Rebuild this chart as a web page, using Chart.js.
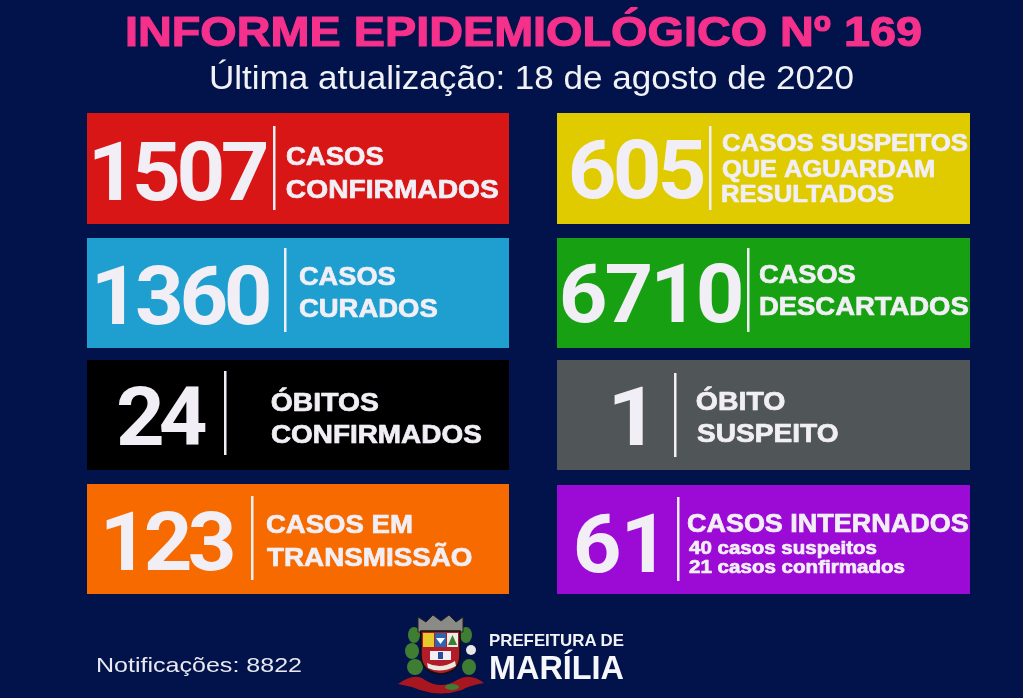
<!DOCTYPE html>
<html lang="pt-BR"><head><meta charset="utf-8">
<script src="https://cdn.jsdelivr.net/npm/chart.js@4"></script>
<style>
html,body{margin:0;padding:0;background:#02124a;width:1023px;height:698px;overflow:hidden}
canvas{position:absolute;display:block}
.t{position:absolute;white-space:nowrap;font-family:"Liberation Sans",Arial,sans-serif;line-height:1;transform-origin:0 0}
svg{position:absolute;left:0;top:0}
#page{position:absolute;left:0;top:0;width:1023px;height:698px;filter:blur(.4px)}
</style></head><body><div id="page">
<div class="t" data-x="125" data-w="797" style="top:10px;font-size:43px;font-weight:bold;color:#f5318c;-webkit-text-stroke:1.2px #f5318c">INFORME EPIDEMIOLÓGICO Nº 169</div>
<div class="t" data-x="209" data-w="645" style="top:60px;font-size:34px;color:#f1f2f6">Última atualização: 18 de agosto de 2020</div>
<div class="t" data-x="96" data-w="206" style="top:654px;font-size:21px;color:#e8e9f0">Notificações: 8822</div>
<div class="t" data-x="489" data-w="135" style="top:632px;font-size:16.500px;font-weight:bold;color:#f2f3f7">PREFEITURA DE</div>
<div class="t" data-x="489" data-w="135" style="top:651px;font-size:33px;font-weight:bold;color:#f6f7fa">MARÍLIA</div>
<svg width="1023" height="698" viewBox="0 0 1023 698">
  <path d="M398 684 Q415 672 425 680 Q441 690 457 680 Q470 672 484 683 Q468 686 462 690 Q441 697 420 690 Q410 686 398 684Z" fill="#a8171f"/>
  <g fill="#3f7d33"><ellipse cx="414" cy="635" rx="6" ry="8"/><ellipse cx="412" cy="651" rx="7" ry="8"/><ellipse cx="415" cy="667" rx="8" ry="8"/><ellipse cx="466" cy="635" rx="6" ry="8"/><ellipse cx="469" cy="667" rx="7" ry="8"/><ellipse cx="452" cy="687" rx="7" ry="3"/></g>
  <ellipse cx="471" cy="650" rx="5" ry="5" fill="#e8e8e8"/>
  <path d="M418 632 L418 617 L426 622 L433 615 L441 621 L449 615 L456 622 L463 617 L463 632Z" fill="#8a8a86" stroke="#222" stroke-width="1"/>
  <path d="M421 631 H460 V655 Q460 672 441 674 Q421 672 421 655Z" fill="#b01c2a" stroke="#111" stroke-width="1.6"/>
  <rect x="423" y="633" width="11" height="14" fill="#e6c92b"/><rect x="435" y="633" width="11" height="14" fill="#2a66b2"/><rect x="447" y="633" width="11" height="14" fill="#e8efe4"/>
  <path d="M452.500 635 L457 645 H448Z" fill="#3f7d33"/><path d="M436 638 H445 L440.500 644Z" fill="#fff"/>
  <rect x="430" y="651" width="21" height="9" fill="#f0f0f4"/><rect x="438" y="652" width="5" height="7" fill="#2a4aa2"/>
  <path d="M427 663 Q441 670 455 661 L456 666 Q441 674 428 668Z" fill="#ece9df"/>
</svg>
</div>
<script>
const cardValues=[1507,1360,24,123,605,6710,1,61];
const cardNames=["CASOS CONFIRMADOS","CASOS CURADOS","ÓBITOS CONFIRMADOS","CASOS EM TRANSMISSÃO","CASOS SUSPEITOS QUE AGUARDAM RESULTADOS","CASOS DESCARTADOS","ÓBITO SUSPEITO","CASOS INTERNADOS"];
const cardLines=[["CASOS","CONFIRMADOS"],["CASOS","CURADOS"],["ÓBITOS","CONFIRMADOS"],["CASOS EM","TRANSMISSÃO"],["CASOS SUSPEITOS","QUE AGUARDAM","RESULTADOS"],["CASOS","DESCARTADOS"],["ÓBITO","SUSPEITO"],["CASOS INTERNADOS","40 casos suspeitos","21 casos confirmados"]];
const cardColors=["#d91616","#1f9fd0","#000000","#f76a00","#dfcb00","#17a012","#505657","#9c0ad6"];
// layout (page pixels): card box, number span + baseline, divider, label spans
const cardBox=[[87,113,422,111],[87,238,422,110],[87,360,422,110],[87,484,422,110],[557,113,413,111],[557,238,413,110],[557,360,413,110],[557,485,413,109]];
const numberPos=[[94,267,200],[97,269,324],[118,206,445],[106,233,570],[571,704,198],[562,741,322],[614,643,445],[576,654,572]];
const dividerPos=[[274,126,210],[285,248,332],[225,371,455],[252,496,580],[710,126,210],[748,248,332],[675,373,457],[678,497,581]];
const labelPos=[
 [[287,383,165,25],[287,498,198,25]],
 [[300,395,285,25],[300,437,317,25]],
 [[272,378,411,25],[272,481,443,25]],
 [[267,412,533,25],[267,472,566,25]],
 [[722,968,151,24],[722,934,177,24],[722,894,202,24]],
 [[760,855,283,25],[760,968,315,25]],
 [[697,785,410,25],[697,838,442,25]],
 [[688,968,532,25],[689,877,554,18],[689,905,573,18]]];
const textColor="#f1eff5";
const FONT='"Liberation Sans",Arial,sans-serif';
// number: slightly widened digits, spaced so that the ink fills the span
function fitNumber(ctx,txt,x0,x1,base){
  ctx.font='bold 81px Roboto,'+FONT;ctx.letterSpacing="0px";
  ctx.textBaseline="alphabetic";ctx.textAlign="left";
  const m=ctx.measureText(txt);
  const ink=m.actualBoundingBoxLeft+m.actualBoundingBoxRight;
  const sx=txt.length>1?1.05:(x1-x0)/ink;
  const ls=txt.length>1?((x1-x0)/sx-ink)/(txt.length-1):0;
  ctx.save();ctx.translate(x0,base);ctx.scale(sx,1);
  ctx.letterSpacing=ls.toFixed(2)+"px";
  ctx.fillText(txt,m.actualBoundingBoxLeft,0);
  ctx.restore();
  ctx.letterSpacing="0px";
}
// label: stretched horizontally, heavy stroke, like the wide display face of the original
function fitLabel(ctx,txt,x0,x1,base,size){
  ctx.font="bold "+size+"px "+FONT;ctx.letterSpacing="0px";
  ctx.textBaseline="alphabetic";ctx.textAlign="left";
  const m=ctx.measureText(txt);
  const ink=m.actualBoundingBoxLeft+m.actualBoundingBoxRight;
  const sx=(x1-x0)/ink;
  ctx.save();ctx.translate(x0,base);ctx.scale(sx,1);
  ctx.fillText(txt,m.actualBoundingBoxLeft,0);
  ctx.lineWidth=0.7;ctx.lineJoin="round";ctx.strokeText(txt,m.actualBoundingBoxLeft,0);
  ctx.restore();
}
const page=document.getElementById("page");
cardValues.forEach((v,i)=>{
  const [bx,by,bw,bh]=cardBox[i];
  const cv=document.createElement("canvas");
  cv.width=bw;cv.height=bh;
  cv.style.left=bx+"px";cv.style.top=by+"px";cv.style.width=bw+"px";cv.style.height=bh+"px";
  page.appendChild(cv);
  const cardText={id:"cardText",afterDatasetsDraw(c){
    const g=c.ctx;g.save();g.translate(-bx,-by);
    g.fillStyle=textColor;g.strokeStyle=textColor;
    const [n0,n1,nb]=numberPos[i];
    fitNumber(g,String(v),n0,n1,nb);
    const [dx,d0,d1]=dividerPos[i];
    g.fillRect(dx-1,d0,2.5,d1-d0);
    cardLines[i].forEach((t,k)=>{
      const [x0,x1,b,s]=labelPos[i][k];
      fitLabel(g,t,x0,x1,b,s);
    });
    g.restore();
  }};
  new Chart(cv,{type:"bar",
    data:{labels:[cardNames[i]],datasets:[{label:cardNames[i],data:[v],backgroundColor:cardColors[i],borderWidth:0,barPercentage:1,categoryPercentage:1}]},
    options:{indexAxis:"y",responsive:false,maintainAspectRatio:false,animation:false,devicePixelRatio:1,
      layout:{padding:0},
      plugins:{legend:{display:false},tooltip:{enabled:false}},
      scales:{x:{display:false,min:0,max:v},y:{display:false}}},
    plugins:[cardText]});
});
document.querySelectorAll(".t").forEach(e=>{
  e.style.left=e.dataset.x+"px";
  const w=e.getBoundingClientRect().width;
  e.style.transform="scaleX("+(+e.dataset.w/w).toFixed(4)+")";
});
</script>
</body></html>
